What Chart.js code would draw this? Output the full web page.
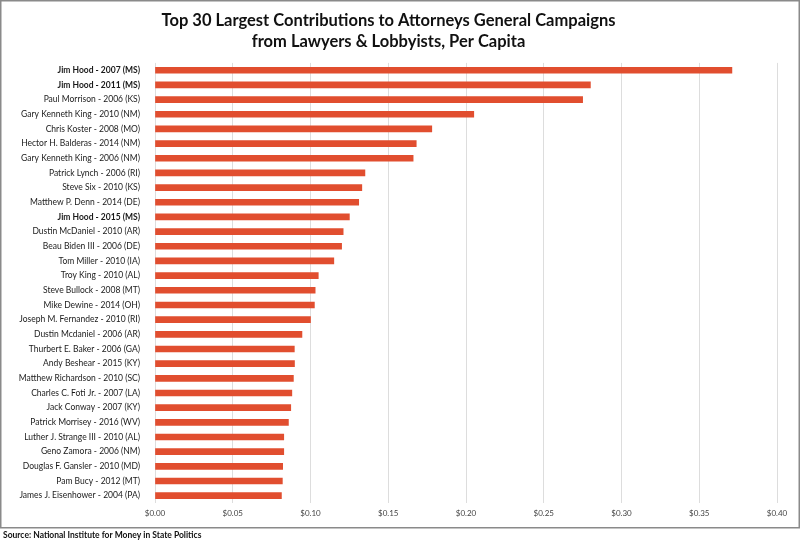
<!DOCTYPE html>
<html>
<head>
<meta charset="utf-8">
<script src="https://cdn.jsdelivr.net/npm/chart.js@4/dist/chart.umd.min.js"></script>
<style>
  body { margin: 0; background: #fff; }
  #wrap { width: 800px; height: 541px; }
</style>
</head>
<body>
<div id="wrap"><canvas id="chart" width="800" height="541"></canvas></div>
<script>
const candidates = [
  'Jim Hood - 2007 (MS)', 'Jim Hood - 2011 (MS)', 'Paul Morrison - 2006 (KS)',
  'Gary Kenneth King - 2010 (NM)', 'Chris Koster - 2008 (MO)', 'Hector H. Balderas - 2014 (NM)',
  'Gary Kenneth King - 2006 (NM)', 'Patrick Lynch - 2006 (RI)', 'Steve Six - 2010 (KS)',
  'Matthew P. Denn - 2014 (DE)', 'Jim Hood - 2015 (MS)', 'Dustin McDaniel - 2010 (AR)',
  'Beau Biden III - 2006 (DE)', 'Tom Miller - 2010 (IA)', 'Troy King - 2010 (AL)',
  'Steve Bullock - 2008 (MT)', 'Mike Dewine - 2014 (OH)', 'Joseph M. Fernandez - 2010 (RI)',
  'Dustin Mcdaniel - 2006 (AR)', 'Thurbert E. Baker - 2006 (GA)', 'Andy Beshear - 2015 (KY)',
  'Matthew Richardson - 2010 (SC)', 'Charles C. Foti Jr. - 2007 (LA)', 'Jack Conway - 2007 (KY)',
  'Patrick Morrisey - 2016 (WV)', 'Luther J. Strange III - 2010 (AL)', 'Geno Zamora - 2006 (NM)',
  'Douglas F. Gansler - 2010 (MD)', 'Pam Bucy - 2012 (MT)', 'James J. Eisenhower - 2004 (PA)'
];
const perCapita = [
  0.371, 0.280, 0.275, 0.205, 0.178, 0.168, 0.166, 0.135, 0.133, 0.131,
  0.125, 0.121, 0.120, 0.115, 0.105, 0.103, 0.1025, 0.100, 0.0945, 0.0896,
  0.0897, 0.089, 0.088, 0.0873, 0.0858, 0.0828, 0.0828, 0.0821, 0.0819, 0.0813
];
const boldNames = ['Jim Hood'];
const titleLines = ['Top 30 Largest Contributions to Attorneys General Campaigns', 'from Lawyers & Lobbyists, Per Capita'];
const sourceNote = 'Source: National Institute for Money in State Politics';

const fontFamily = 'Lato, "Noto Sans", sans-serif';

// white background, frame and source line
const decor = {
  id: 'decor',
  beforeDraw(chart) {
    const c = chart.ctx;
    c.save();
    c.fillStyle = '#fff';
    c.fillRect(0, 0, chart.width, chart.height);
    c.restore();
  },
  afterDraw(chart) {
    const c = chart.ctx;
    c.save();
    c.strokeStyle = '#8a8a8a';
    c.lineWidth = 1.5;
    c.strokeRect(0.75, 0.75, 798.5, 527);
    c.fillStyle = '#111';
    c.font = 'bold 8.5px ' + fontFamily;
    c.textBaseline = 'middle';
    c.fillText(sourceNote, 3, 535);
    c.restore();
  }
};

new Chart(document.getElementById('chart'), {
  type: 'bar',
  data: {
    labels: candidates,
    datasets: [{
      data: perCapita,
      backgroundColor: '#e14e2f',
      barThickness: 6
    }]
  },
  options: {
    indexAxis: 'y',
    responsive: false,
    animation: false,
    layout: { padding: { left: 0, right: 23, top: 0, bottom: 0 } },
    plugins: {
      legend: { display: false },
      tooltip: { enabled: false },
      title: {
        display: true,
        text: titleLines,
        color: '#111',
        font: { family: fontFamily, size: 16.5, weight: 'bold', lineHeight: 1.27 },
        padding: { top: 10, bottom: 11 }
      }
    },
    scales: {
      x: {
        min: 0,
        max: 0.4,
        ticks: {
          stepSize: 0.05,
          color: '#444',
          font: { family: fontFamily, size: 8 },
          padding: 6,
          callback: v => '$' + v.toFixed(2)
        },
        grid: { color: '#dddddd', drawTicks: false },
        border: { display: false },
        afterFit: s => { s.height = 38; }
      },
      y: {
        ticks: {
          color: '#1a1a1a',
          padding: 7,
          autoSkip: false,
          font: ctx => ({
            family: fontFamily,
            size: 8.5,
            weight: boldNames.some(n => candidates[ctx.index].startsWith(n)) ? 'bold' : 'normal'
          })
        },
        grid: { display: false },
        border: { display: false },
        afterFit: s => { s.width = 155; }
      }
    }
  },
  plugins: [decor]
});
</script>
</body>
</html>
